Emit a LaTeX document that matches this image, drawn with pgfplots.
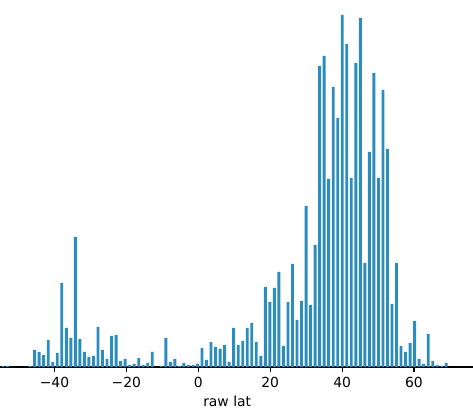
\documentclass[border=0pt]{standalone}
\usepackage{fontspec}
\setmainfont{DejaVu Sans}
\usepackage{pgfplots}
\pgfplotsset{compat=1.18}
\definecolor{barblue}{RGB}{43,140,190}

\begin{document}
\begin{tikzpicture}
\begin{axis}[
  at={(0pt,33.12pt)}, anchor=south west,
  scale only axis,
  width=340.56pt, height=264.24pt,
  xmin=-55.16, xmax=76.41,
  ymin=0, ymax=367,
  axis x line=bottom,
  axis y line=none,
  x axis line style={-, line width=0.8pt},
  xtick={-40,-20,0,20,40,60},
  xticklabels={−40,−20,0,20,40,60},
  tick align=outside,
  major tick length=3.5pt,
  xtick style={line width=0.8pt, black},
  xlabel={raw lat},
  xlabel style={at={(axis description cs:0.4803,0)}, anchor=base, yshift=-28.8pt},
  ybar, bar width=0.8,
]
% bar heights (pixel units)
\addplot[fill=barblue, draw=none] coordinates {
  (-54.33,1) (-53.07,1)
  (-46.78,1) (-45.52,17) (-44.26,15) (-43.01,12) (-41.75,27) (-40.49,5)
  (-39.23,14) (-37.97,84) (-36.71,39) (-35.46,29) (-34.20,130) (-32.94,28)
  (-31.68,15) (-30.42,10) (-29.16,11) (-27.91,40) (-26.65,17) (-25.39,8)
  (-24.13,31) (-22.87,32) (-21.61,6) (-20.36,8) (-19.10,2) (-17.84,3)
  (-16.58,9) (-15.32,2) (-14.06,4) (-12.81,15)
  (-10.29,1) (-9.03,29) (-7.77,5) (-6.51,8) (-5.26,1) (-4.00,4)
  (-2.74,2) (-1.48,2) (-0.22,3) (1.04,19) (2.29,7) (3.55,25)
  (4.81,20) (6.07,18) (7.33,22) (8.59,5) (9.84,39) (11.10,22)
  (12.36,26) (13.62,39) (14.88,44) (16.13,25) (17.39,11) (18.65,80)
  (19.91,65) (21.17,79) (22.43,95) (23.68,21) (24.94,65) (26.20,103)
  (27.46,47) (28.72,66) (29.98,161) (31.23,62) (32.49,122) (33.75,301)
  (35.01,311) (36.27,188) (37.53,280) (38.78,249) (40.04,352) (41.30,323)
  (42.56,189) (43.82,304) (45.08,349) (46.33,104) (47.59,215) (48.85,294)
  (50.11,189) (51.37,277) (52.63,218) (53.88,63) (55.14,104) (56.40,21)
  (57.66,15) (58.92,24) (60.18,46) (61.43,8) (62.69,3) (63.95,33)
  (65.21,6) (66.47,2) (67.72,1) (68.98,4)
};
\end{axis}
\pgfresetboundingbox
\useasboundingbox (0,0) rectangle (340.56pt,297.36pt);
\end{tikzpicture}
\end{document}
